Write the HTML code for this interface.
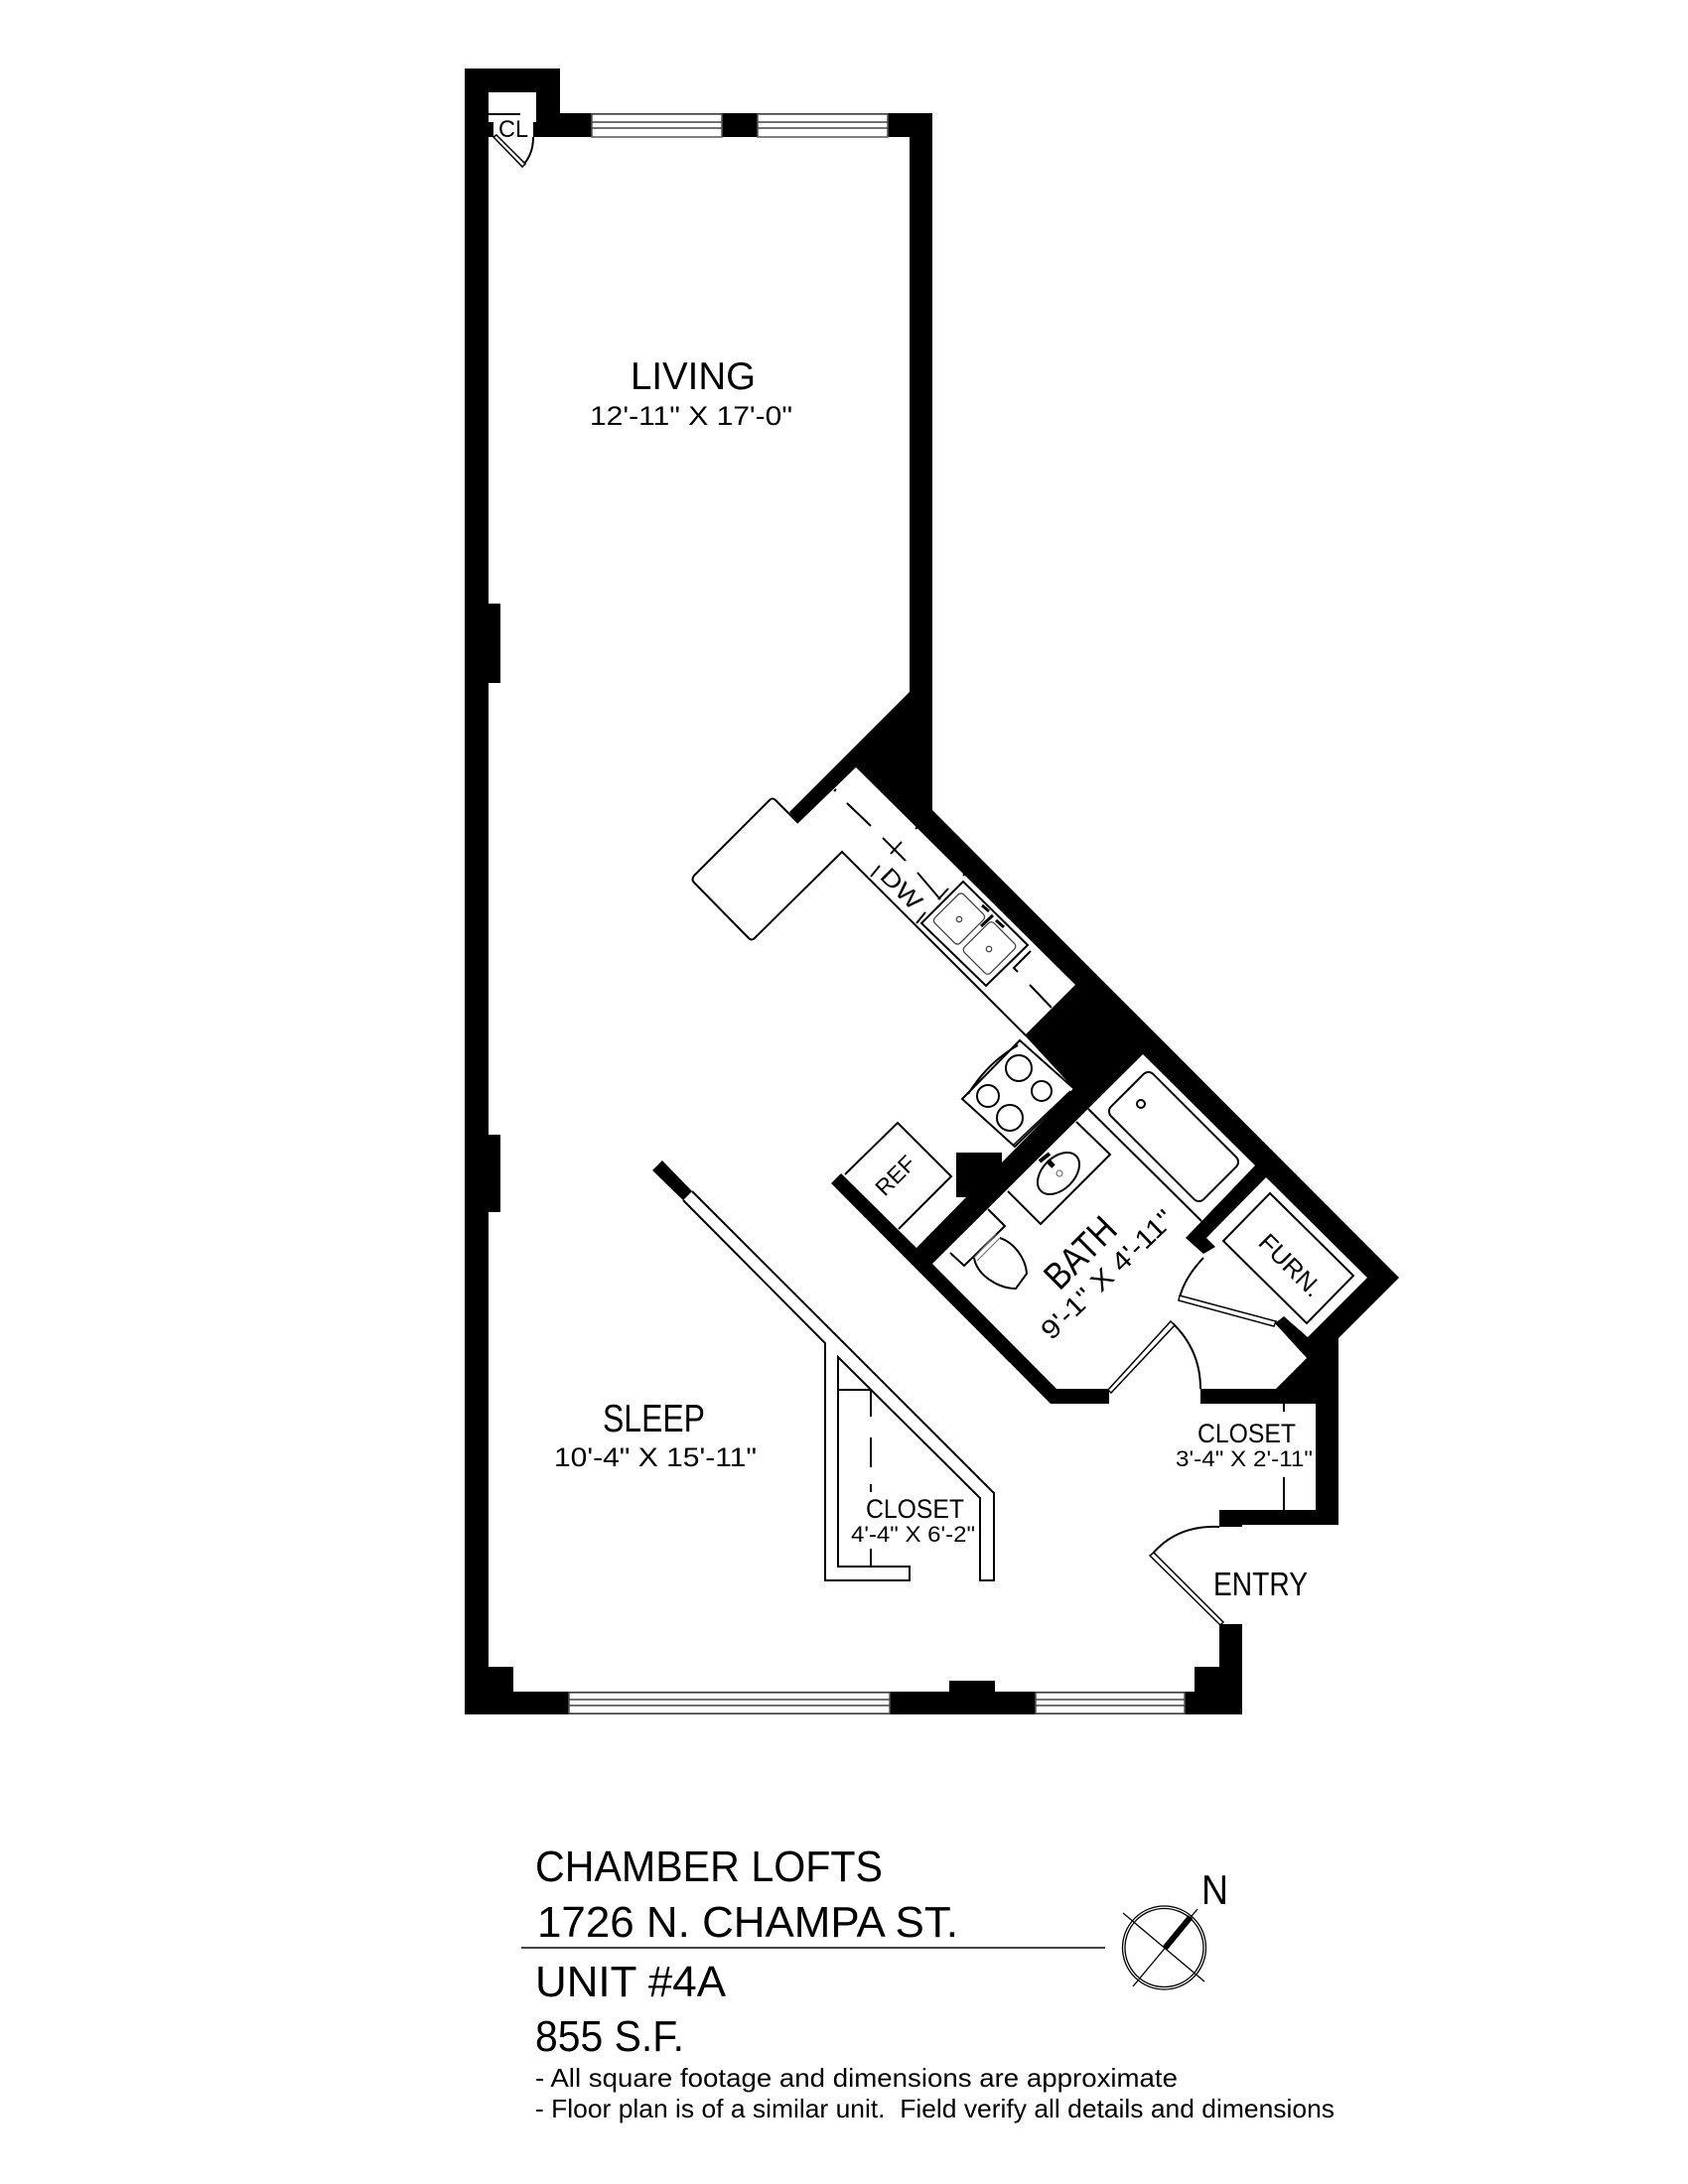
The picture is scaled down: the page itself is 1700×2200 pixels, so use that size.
<!DOCTYPE html>
<html>
<head>
<meta charset="utf-8">
<style>
html,body{margin:0;padding:0;background:#fff;width:1700px;height:2200px;overflow:hidden}
svg{display:block}
text{font-family:"Liberation Sans",sans-serif;fill:#000}
</style>
</head>
<body>
<svg width="1700" height="2200" viewBox="0 0 1700 2200" xmlns="http://www.w3.org/2000/svg">
<rect width="1700" height="2200" fill="#fff"/>
<!-- walls -->
<polygon fill="#000" points="1228,1636 1251,1636 1251,1727 468,1727 468,69 564,69 564,114 939,114 939,816 1409,1287 1348,1348 1348,1536 1251,1536 1251,1538 1228,1538 1228,1521 1325,1521 1325,1414 1209,1414 1209,1399 1285,1399 1316,1368 1284,1333 1293,1326 1317,1347 1377,1287 1275,1186 1215,1247 1224,1256 1212,1263 1194,1247 1264,1174 1151,1062 939,1273 1064,1399 1117,1399 1117,1414 1058,1414 837,1192 847,1182 923,1257 973,1206 963,1206 963,1161 1009,1161 1009,1171 1082,1097 1032,1043 1083,992 862,773 804,829 795,818 916,697 916,138 537,138 537,123 540,123 540,93 492,93 492,123 497,123 497,138 492,138 492,608 504,608 504,688 492,688 492,1143 504,1143 504,1221 492,1221 492,1679 517,1679 517,1704 956,1704 956,1693 1002,1693 1002,1704 1203,1704 1203,1679 1228,1679"/>
<!-- partition black stub -->
<polygon fill="#000" points="657,1179 667,1169 697,1200 688,1209"/>
<!-- windows -->
<g fill="#fff" stroke="#555" stroke-width="1.5">
<rect x="596" y="115" width="131" height="23"/>
<rect x="763" y="115" width="131" height="23"/>
<rect x="573" y="1705" width="323" height="21"/>
<rect x="1043" y="1705" width="150" height="21"/>
</g>
<g stroke="#444" stroke-width="1.5" fill="none">
<path d="M596 123H727M596 129H727M763 123H894M763 129H894"/>
<path d="M573 1712H896M573 1718H896M1043 1712H1193M1043 1718H1193"/>
</g>
<g fill="none" stroke="#000" stroke-width="2">
<!-- closet CL -->
<path d="M492 115H524"/>
<path d="M526 167Q537 156 537 138" />
<polygon points="497,138 500,136 529,165 526,168" fill="#fff" stroke-width="1.5"/>
<!-- partition closet -->
<path d="M688 1209L831 1353V1592H916V1578H844V1367L987 1509V1592H1001V1504L697 1200"/>
<path d="M844 1400H877V1427M877 1448V1478M877 1495V1503M877 1560V1578"/>
<!-- right closet -->
<path d="M1293 1414V1422M1293 1488V1521"/>
<!-- counter -->
<path d="M804 829L781 806Q778 803 775 806L699 882Q696 886 699 889L754 945Q757 948 760 945L848 858L1033 1043"/>
<path d="M853 809L877 832M889 844L912 867M908 848L897 860M877 883L886 872M923 930L932 919M924 879L947 906M945 906L955 895M1038 958L1021 975L1025 979M1037 992L1059 1015"/>
<path d="M840 797L842 795M922 835L924 833M970 882L972 880"/>
<!-- kitchen sink -->
<polygon points="970,888 1035,952 993,993 928,930"/>
</g>
<g fill="none" stroke="#444" stroke-width="1.3">
<rect x="-18" y="-20.5" width="36" height="41" rx="4" transform="translate(966,925.5) rotate(45)"/>
<rect x="-18.5" y="-21" width="37" height="42" rx="4" transform="translate(996.5,955) rotate(45)"/>
<circle cx="966" cy="926" r="2.7"/>
<circle cx="996" cy="956" r="2.7"/>
</g>
<g fill="none" stroke="#000" stroke-width="3">
<path d="M989 912L996 918M1003 927L1011 934M1000 922L988 933"/>
</g>
<g fill="none" stroke="#000" stroke-width="2">
<!-- stove -->
<polygon points="1027,1048 1082,1097 1022,1155 969,1107"/>
<path d="M975 1102Q995 1070 1025 1053"/>
<path d="M1078 1099L1021 1153" stroke-width="1.5"/>
<circle cx="1026" cy="1076" r="13"/>
<circle cx="1049" cy="1099" r="10"/>
<circle cx="995" cy="1104" r="11"/>
<circle cx="1017" cy="1126" r="13"/>
<!-- REF -->
<polyline points="851,1183 904,1131 958,1185 905,1238"/>
<!-- tub -->
<path d="M1096 1117L1210 1230"/>
<rect x="-66" y="-30" width="132" height="60" rx="7" transform="translate(1182,1145) rotate(45)"/>
<circle cx="1149" cy="1112" r="4"/>
<!-- vanity -->
<polyline points="1084,1130 1118,1163 1048,1233 1015,1200"/>
<ellipse cx="1066" cy="1182" rx="25" ry="16" transform="rotate(-45 1066 1182)"/>
<path d="M1055 1169L1061 1175" stroke-width="5"/>
<path d="M1047 1170L1057 1162" stroke-width="4"/>
<!-- toilet -->
<polyline points="995,1218 1012,1235 971,1275 957,1262"/>
<path d="M1007 1247C1022 1252 1033 1268 1034 1283L1023 1298C1006 1298 984 1285 981 1267"/>
<!-- furnace -->
<polygon points="1279,1202 1363,1285 1316,1333 1232,1250"/>
<!-- door arcs -->
<path d="M1181 1333Q1209 1360 1209 1399"/>
<path d="M1188 1307Q1193 1287 1212 1267"/>
<path d="M1160 1566Q1185 1536 1228 1538"/>
</g>
<g stroke="#777" stroke-width="1.2" fill="none">
<path d="M1003 1243L981 1267M1007 1247L984 1270"/>
<circle cx="1067" cy="1182" r="3"/>
</g>
<!-- door leaves -->
<g fill="#fff" stroke="#000" stroke-width="1.5">
<polygon points="1179,1331 1183,1335 1119,1403 1116,1400"/>
<polygon points="1188,1305 1285,1331 1283,1336 1187,1310"/>
<polygon points="1158,1567 1162,1564 1232,1634 1229,1637"/>
</g>
<!-- title rule / compass -->
<line x1="525" y1="1962" x2="1113" y2="1962" stroke="#444" stroke-width="2"/>
<g fill="none" stroke="#000">
<circle cx="1172.5" cy="1962" r="42" stroke-width="1.3"/>
<circle cx="1172.5" cy="1962" r="39.5" stroke-width="1.3"/>
<line x1="1131" y1="1927" x2="1213" y2="1996" stroke-width="1.3"/>
<line x1="1206" y1="1923" x2="1141" y2="2001" stroke-width="1.3"/>
<line x1="1199" y1="1931" x2="1173.5" y2="1962" stroke-width="6"/>
</g>
<!-- labels -->
<text x="502" y="138" font-size="24" textLength="30" lengthAdjust="spacingAndGlyphs">CL</text>
<text x="635" y="392" font-size="39" textLength="126" lengthAdjust="spacingAndGlyphs">LIVING</text>
<text x="594" y="428" font-size="27" textLength="204" lengthAdjust="spacingAndGlyphs">12'-11" X 17'-0"</text>
<text x="607" y="1442" font-size="39" textLength="103" lengthAdjust="spacingAndGlyphs">SLEEP</text>
<text x="558" y="1477" font-size="27" textLength="204" lengthAdjust="spacingAndGlyphs">10'-4" X 15'-11"</text>
<text x="872" y="1529" font-size="27" textLength="99" lengthAdjust="spacingAndGlyphs">CLOSET</text>
<text x="857" y="1553" font-size="22" textLength="125" lengthAdjust="spacingAndGlyphs">4'-4" X 6'-2"</text>
<text x="1206" y="1453" font-size="27" textLength="99" lengthAdjust="spacingAndGlyphs">CLOSET</text>
<text x="1184" y="1477" font-size="22" textLength="138" lengthAdjust="spacingAndGlyphs">3'-4" X 2'-11"</text>
<text x="1222" y="1607" font-size="33" textLength="95" lengthAdjust="spacingAndGlyphs">ENTRY</text>
<text font-size="38" textLength="85" lengthAdjust="spacingAndGlyphs" transform="translate(1067,1301) rotate(-45)">BATH</text>
<text font-size="27" textLength="174" lengthAdjust="spacingAndGlyphs" transform="translate(1059,1351) rotate(-44)">9'-1" X 4'-11"</text>
<text font-size="23" textLength="46" lengthAdjust="spacingAndGlyphs" transform="translate(891,1206) rotate(-45)">REF</text>
<text font-size="25" textLength="78" lengthAdjust="spacingAndGlyphs" transform="translate(1266,1253) rotate(45)">FURN.</text>
<text font-size="24" textLength="48" lengthAdjust="spacingAndGlyphs" transform="translate(885,884) rotate(45)">DW</text>
<text x="539" y="1895" font-size="44" textLength="350" lengthAdjust="spacingAndGlyphs">CHAMBER LOFTS</text>
<text x="541" y="1951" font-size="44" textLength="424" lengthAdjust="spacingAndGlyphs">1726 N. CHAMPA ST.</text>
<text x="539" y="2011" font-size="44" textLength="192" lengthAdjust="spacingAndGlyphs">UNIT #4A</text>
<text x="539" y="2066" font-size="44" textLength="150" lengthAdjust="spacingAndGlyphs">855 S.F.</text>
<text x="539" y="2102" font-size="26" textLength="647" lengthAdjust="spacingAndGlyphs">- All square footage and dimensions are approximate</text>
<text x="539" y="2133" font-size="26" textLength="805" lengthAdjust="spacingAndGlyphs" xml:space="preserve">- Floor plan is of a similar unit.  Field verify all details and dimensions</text>
<text x="1210" y="1918" font-size="42" textLength="27" lengthAdjust="spacingAndGlyphs">N</text>
</svg>
</body>
</html>
